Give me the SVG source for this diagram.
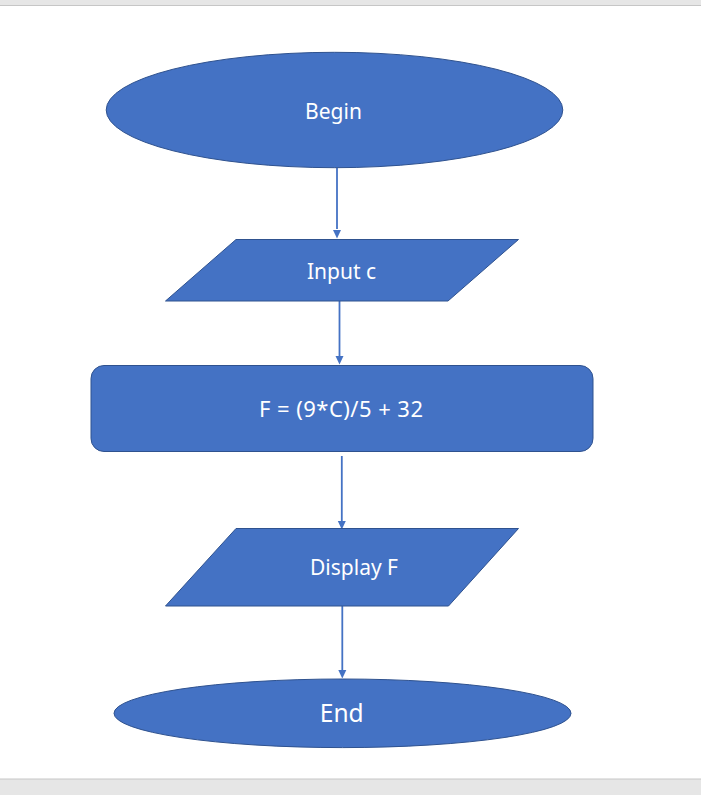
<svg xmlns="http://www.w3.org/2000/svg" width="701" height="795" viewBox="0 0 701 795">
<style>
.shape{fill:#4472C4;stroke:#2F528F;stroke-width:1}
.lbl{fill:#FFFFFF;font-family:"Noto Sans","Open Sans",sans-serif;font-size:21px;text-anchor:middle}
.conn{stroke:#4472C4;stroke-width:1.8;fill:none}
.head{fill:#4472C4}
</style>
<rect x="0" y="0" width="701" height="795" fill="#FFFFFF"/>
<rect x="0" y="0" width="701" height="5" fill="#E6E6E6"/>
<line x1="0" y1="5.5" x2="701" y2="5.5" stroke="#C6C6C6" stroke-width="1"/>
<rect x="0" y="779" width="701" height="16" fill="#E6E6E6"/>
<line x1="0" y1="779" x2="701" y2="779" stroke="#C6C6C6" stroke-width="1"/>
<g id="connectors">
<path class="conn" d="M337,168 V229"/>
<path class="head" d="M333,230 L341,230 L337,238.5 Z"/>
<path class="conn" d="M339.5,301 V356"/>
<path class="head" d="M335.5,356 L343.5,356 L339.5,364.5 Z"/>
<path class="conn" d="M341.8,456 V521"/>
<path class="head" d="M337.8,521 L345.8,521 L341.8,529.5 Z"/>
<path class="conn" d="M342.3,606 V670"/>
<path class="head" d="M338.3,670 L346.3,670 L342.3,678.5 Z"/>
</g>
<g id="begin">
<ellipse class="shape" cx="334.5" cy="110" rx="228.3" ry="57.7"/>
<text class="lbl" x="333.5" y="119">Begin</text>
</g>
<g id="input">
<polygon class="shape" points="236,239.5 518.5,239.5 448,301 165.5,301"/>
<text class="lbl" x="341.5" y="279">Input c</text>
</g>
<g id="process">
<rect class="shape" x="91" y="365.5" width="502" height="86" rx="13" ry="13"/>
<text class="lbl" x="341" y="417" style="font-size:22px" textLength="164" lengthAdjust="spacing">F = (9*C)/5 + 32</text>
</g>
<g id="display">
<polygon class="shape" points="236,528.5 518.5,528.5 448.5,606 165.5,606"/>
<text class="lbl" x="354" y="575">Display F</text>
</g>
<g id="end">
<ellipse class="shape" cx="342.5" cy="713.3" rx="228.5" ry="34.3"/>
<text class="lbl" x="341.7" y="722.3" style="font-size:24.5px">End</text>
</g>
</svg>
